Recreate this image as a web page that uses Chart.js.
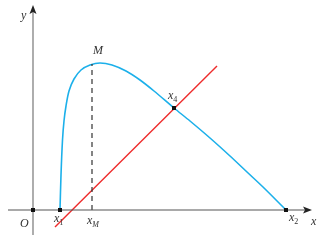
<!DOCTYPE html>
<html>
<head>
<meta charset="utf-8">
<script src="https://cdn.jsdelivr.net/npm/chart.js@4"></script>
<style>
  html, body { margin: 0; padding: 0; background: #fff; }
  #wrap { width: 327px; height: 241px; }
</style>
</head>
<body>
<div id="wrap"><canvas id="myChart"></canvas></div>
<script>
// Curve f(x) (math units, origin at O)
const curveX = [27, 28, 29.5, 31, 33, 36, 41, 48, 57, 67, 79, 93, 107, 121, 141, 157, 177, 197, 214, 230, 253];
const curveY = [0, 35, 70, 89, 104, 119, 131, 140, 145, 147, 145, 139, 130, 119, 102, 89, 72, 54, 38, 23, 0];

// Red straight line (two ends)
const lineX = [22, 184];
const lineY = [-17, 144];

// Marked points
const pointNames = ['O', 'x1', 'x2', 'x4'];
const pointX = [0, 27, 253, 141];
const pointY = [0, 0, 0, 102];

// Maximum M and its foot x_M
const xM = 59;
const yM = 146;

// Axis extents
const xAxisFrom = -25, xAxisTo = 279;
const yAxisFrom = -25, yAxisTo = 205;

const toPts = (xs, ys) => xs.map((x, i) => ({ x: x, y: ys[i] }));

// Arrows and italic labels
const decorPlugin = {
  id: 'decor',
  afterDatasetsDraw(chart) {
    const ctx = chart.ctx;
    const sx = chart.scales.x, sy = chart.scales.y;
    const px = (v) => sx.getPixelForValue(v);
    const py = (v) => sy.getPixelForValue(v);

    ctx.save();
    ctx.fillStyle = '#222';
    // x arrow
    let tx = px(xAxisTo), ty = py(0);
    ctx.beginPath();
    ctx.moveTo(tx, ty);
    ctx.lineTo(tx - 9, ty - 3.5);
    ctx.lineTo(tx - 7, ty);
    ctx.lineTo(tx - 9, ty + 3.5);
    ctx.closePath();
    ctx.fill();
    // y arrow
    tx = px(0); ty = py(yAxisTo);
    ctx.beginPath();
    ctx.moveTo(tx, ty);
    ctx.lineTo(tx - 3.5, ty + 9);
    ctx.lineTo(tx, ty + 7);
    ctx.lineTo(tx + 3.5, ty + 9);
    ctx.closePath();
    ctx.fill();

    // marked points
    ctx.fillStyle = '#111';
    pointX.forEach((x, i) => {
      ctx.fillRect(Math.round(px(x)) - 2, Math.round(py(pointY[i])) - 2, 4, 4);
    });

    // labels
    const label = (main, sub, x, y) => {
      ctx.font = "italic 12px 'Liberation Serif'";
      ctx.fillStyle = '#333';
      ctx.textBaseline = 'alphabetic';
      ctx.textAlign = 'left';
      const w = ctx.measureText(main).width;
      ctx.fillText(main, x, y);
      if (sub) {
        ctx.font = (sub === 'M' ? "italic " : "") + "8px 'Liberation Serif'";
        ctx.fillText(sub, x + w, y + 3);
      }
    };
    label('y', '', px(0) - 12, py(yAxisTo) + 14);
    label('O', '', px(0) - 13, py(0) + 17);
    label('x', '1', px(pointX[1]) - 6, py(0) + 12);
    label('x', 'M', px(xM) - 5, py(0) + 14);
    label('x', '2', px(pointX[2]) + 3, py(0) + 11);
    label('x', '', px(xAxisTo) - 1, py(0) + 15);
    label('M', '', px(xM) + 1, py(yM) - 10);
    label('x', '4', px(pointX[3]) - 6, py(pointY[3]) - 9);
    ctx.restore();
  }
};

const chartConfig = {
  type: 'scatter',
  data: {
    datasets: [
      { // x axis
        data: toPts([xAxisFrom, xAxisTo - 6], [0, 0]),
        showLine: true, borderColor: '#555', borderWidth: 1.2, pointRadius: 0
      },
      { // y axis
        data: toPts([0, 0], [yAxisFrom, yAxisTo - 6]),
        showLine: true, borderColor: '#777', borderWidth: 1.2, pointRadius: 0
      },
      { // dashed line at x_M
        data: toPts([xM, xM], [0, yM]),
        showLine: true, borderColor: '#333', borderWidth: 1.2, borderDash: [5, 4], pointRadius: 0
      },
      { // curve
        data: toPts(curveX, curveY),
        showLine: true, borderColor: '#1cb0ea', borderWidth: 1.6, pointRadius: 0,
        tension: 0.3
      },
      { // red line
        data: toPts(lineX, lineY),
        showLine: true, borderColor: '#ee2b2b', borderWidth: 1.4, pointRadius: 0
      }
    ]
  },
  options: {
    responsive: true,
    maintainAspectRatio: false,
    animation: false,
    layout: { padding: 0, autoPadding: false },
    plugins: { legend: { display: false }, tooltip: { enabled: false } },
    scales: {
      x: { type: 'linear', display: false, min: -33, max: 294 },
      y: { type: 'linear', display: false, min: -31, max: 210 }
    }
  },
  plugins: [decorPlugin]
};

const myChart = new Chart(document.getElementById('myChart'), chartConfig);
</script>
</body>
</html>
